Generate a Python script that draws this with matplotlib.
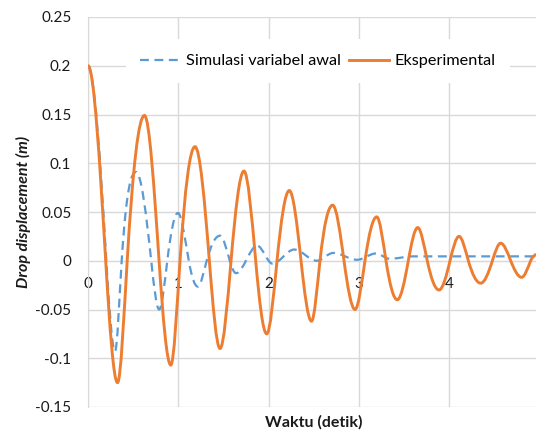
import matplotlib
matplotlib.use('Agg')
import matplotlib.pyplot as plt
import numpy as np
from matplotlib.path import Path
from matplotlib.patches import PathPatch
from matplotlib.lines import Line2D

plt.rcParams['font.family'] = ['Lato', 'DejaVu Sans']

# peaks, troughs and zero crossings
# (time in s, displacement in m)
t_eksp = [0, 0.196, 0.327, 0.434, 0.625, 0.787, 0.917, 1.019, 1.185, 1.344, 1.462, 1.584,
          1.727, 1.857, 1.979, 2.093, 2.229, 2.359, 2.475, 2.569, 2.709, 2.835, 2.957, 3.067,
          3.197, 3.30, 3.425, 3.547, 3.651, 3.757, 3.887, 4.009, 4.109, 4.212, 4.349, 4.478,
          4.570, 4.681, 4.802, 4.902, 4.961]
y_eksp = [0.2, 0.0, -0.125, 0.0, 0.149, 0.0, -0.107, 0.0, 0.117, 0.0, -0.090, 0.0,
          0.092, 0.0, -0.075, 0.0, 0.072, 0.0, -0.062, 0.0, 0.057, 0.0, -0.050, 0.0,
          0.045, 0.0, -0.040, 0.0, 0.034, 0.0, -0.030, 0.0, 0.025, 0.0, -0.023, 0.0,
          0.018, 0.0, -0.017, 0.0, 0.007]

t_sim = [0, 0.203, 0.299, 0.373, 0.532, 0.70, 0.788, 0.878, 0.996, 1.116, 1.216, 1.314,
         1.462, 1.57, 1.64, 1.873, 2.043, 2.283, 2.533, 2.716, 2.98, 3.19, 3.34, 3.6, 4.961]
y_sim = [0.2, 0.0, -0.093, 0.0, 0.091, 0.0, -0.050, 0.0, 0.049, 0.0, -0.0265, 0.0,
         0.0257, 0.0, -0.0127, 0.0155, -0.003, 0.0115, 0.0, 0.008, 0.001, 0.0075, 0.002,
         0.0045, 0.0045]

x_ticks = [0, 1, 2, 3, 4]
y_ticks = [-0.15, -0.1, -0.05, 0, 0.05, 0.1, 0.15, 0.2, 0.25]
y_ticklabels = ['-0.15', '-0.1', '-0.05', '0', '0.05', '0.1', '0.15', '0.2', '0.25']

c_sim = '#5B9BD5'
c_eksp = '#ED7D31'


def slopes(x, y):
    # flat at peaks/troughs, sine-like steepness where the curve passes between them
    d = np.diff(y) / np.diff(x)
    m = np.zeros_like(y)
    for k in range(1, len(x) - 1):
        if d[k - 1] * d[k] > 0:
            m[k] = np.pi / 2 * 0.5 * (d[k - 1] + d[k])
    m[-1] = d[-1]
    return m


def smooth_line(x, y):
    # Excel style "smoothed line": cubic segments through the points
    x = np.asarray(x, float)
    y = np.asarray(y, float)
    m = slopes(x, y)
    verts = [(x[0], y[0])]
    codes = [Path.MOVETO]
    for i in range(len(x) - 1):
        h = x[i + 1] - x[i]
        verts += [(x[i] + h / 3, y[i] + m[i] * h / 3),
                  (x[i + 1] - h / 3, y[i + 1] - m[i + 1] * h / 3),
                  (x[i + 1], y[i + 1])]
        codes += [Path.CURVE4] * 3
    return Path(verts, codes)


fig = plt.figure(figsize=(5.36, 4.3), dpi=100)
ax = fig.add_axes([88 / 536, 1 - 407 / 430, 448 / 536, 390 / 430])

ax.add_patch(PathPatch(smooth_line(t_sim, y_sim), fill=False, edgecolor=c_sim, lw=1.6,
                       linestyle=(0, (4, 2.5)), capstyle='butt', zorder=3))
ax.add_patch(PathPatch(smooth_line(t_eksp, y_eksp), fill=False, edgecolor=c_eksp, lw=2.1,
                       zorder=4))

ax.set_xlim(0, 4.961)
ax.set_ylim(-0.15, 0.25)
ax.set_xticks(x_ticks)
ax.set_yticks(y_ticks)
ax.set_yticklabels(y_ticklabels)
ax.grid(True, color='#D9D9D9', lw=1.0)
ax.set_axisbelow(True)

for s in ['top', 'right']:
    ax.spines[s].set_visible(False)
ax.spines['bottom'].set_position(('data', 0))
ax.spines['bottom'].set_color('#D9D9D9')
ax.spines['left'].set_color('#D9D9D9')
ax.tick_params(length=0, labelsize=11, colors='#1a1a1a')
ax.tick_params(axis='y', pad=12)
ax.tick_params(axis='x', pad=12)

ax.set_xlabel('Waktu (detik)', fontsize=11.5, fontweight='bold', color='#1a1a1a')
ax.xaxis.set_label_coords(0.505, -0.02)
ax.set_ylabel('Drop displacement (m)', fontsize=11.5, fontweight='bold', fontstyle='italic',
              color='#1a1a1a')
ax.yaxis.set_label_coords(-0.128, 0.50)

handles = [Line2D([], [], color=c_sim, lw=1.6, linestyle=(0, (4, 2.5))),
           Line2D([], [], color=c_eksp, lw=2.1)]
leg = ax.legend(handles, ['Simulasi variabel awal', 'Eksperimental'], loc='center',
                bbox_to_anchor=(0.513, 0.887), ncol=2, fontsize=11.7, frameon=True,
                handlelength=2.5, handletextpad=0.3, columnspacing=0.5, borderpad=0.9)
leg.get_frame().set_edgecolor('none')
leg.get_frame().set_facecolor('white')
leg.get_frame().set_alpha(1)
leg.get_frame().set_boxstyle('square', pad=0)

plt.savefig('out.png', dpi=100)
